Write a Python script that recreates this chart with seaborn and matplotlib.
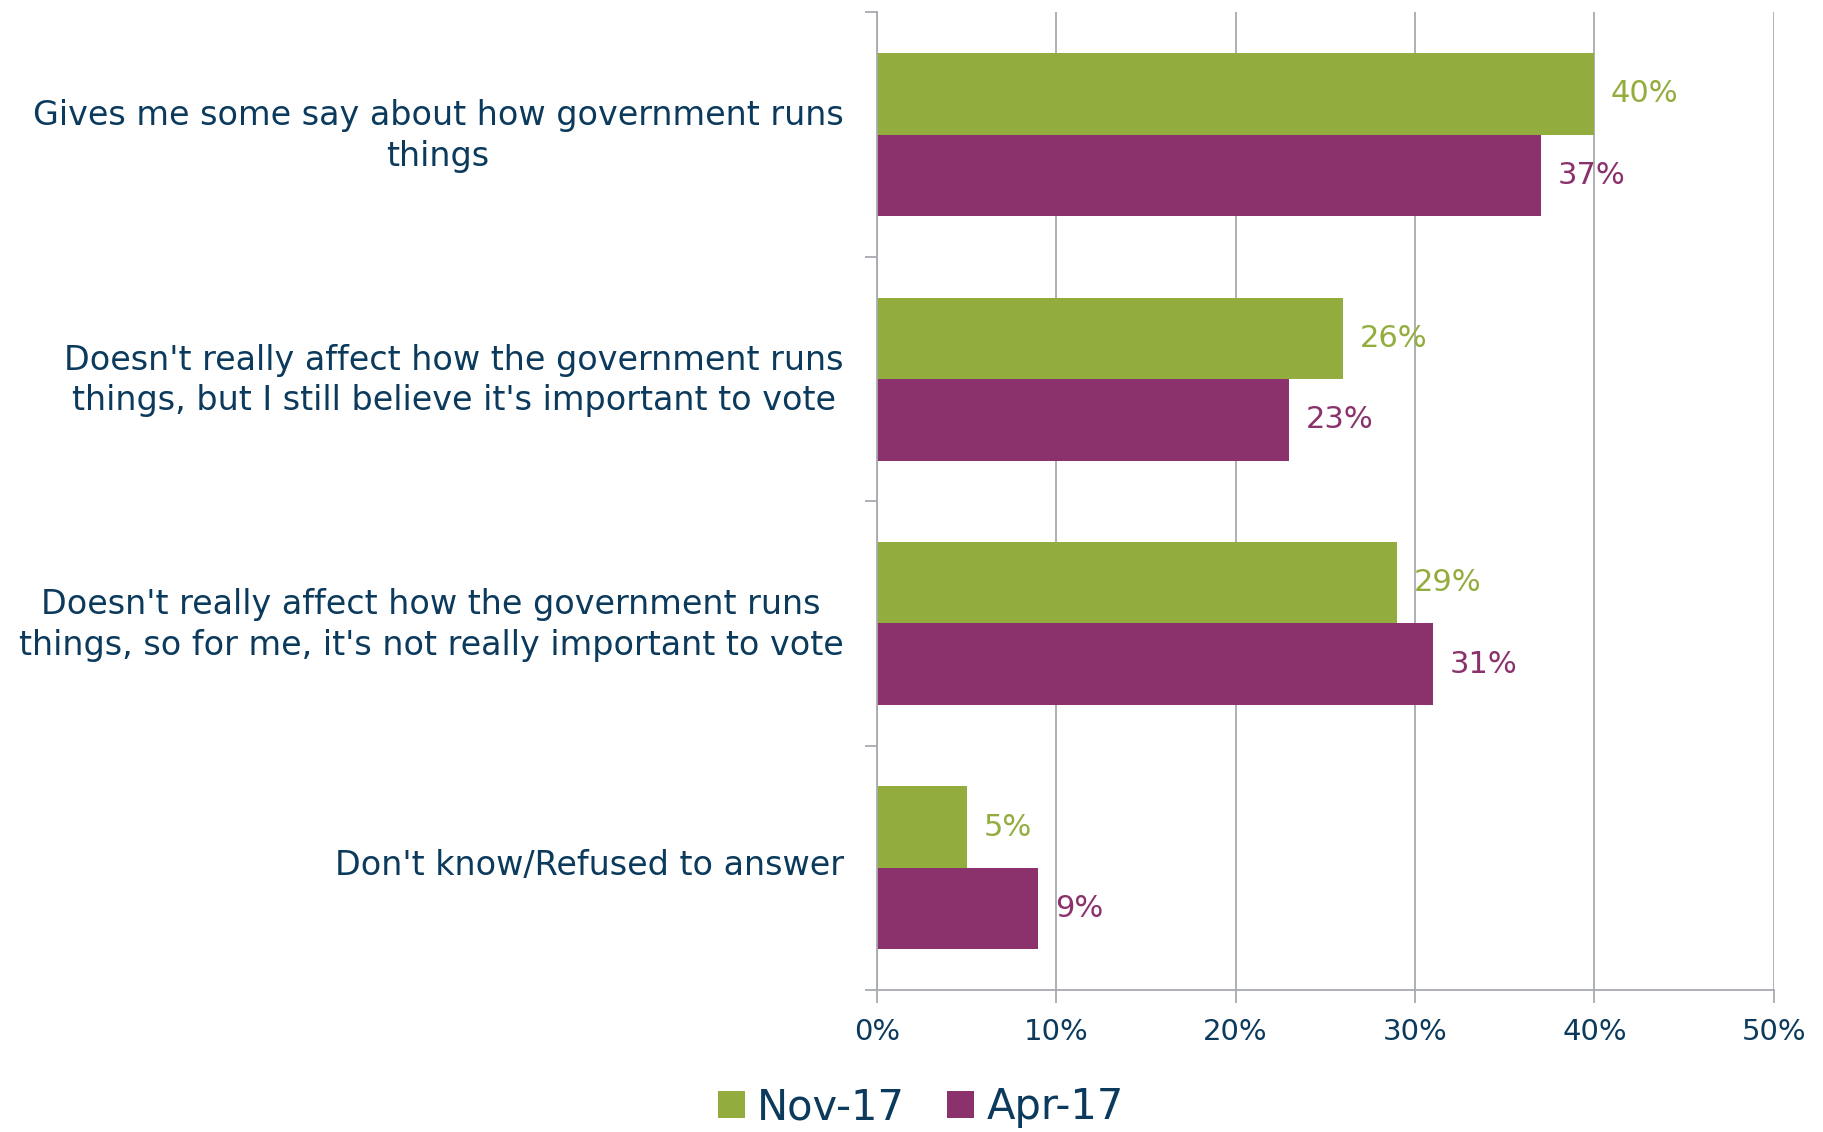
import matplotlib
matplotlib.use("Agg")
import matplotlib.pyplot as plt
import matplotlib.transforms as mtransforms
import seaborn as sns
import pandas as pd
import numpy as np
from matplotlib.patches import Patch
from matplotlib.ticker import FixedLocator, PercentFormatter

categories = [
    "Gives me some say about how government runs\nthings",
    "Doesn't really affect how the government runs\nthings, but I still believe it's important to vote",
    "Doesn't really affect how the government runs\nthings, so for me, it's not really important to vote",
    "Don't know/Refused to answer",
]
series_names = ["Nov-17", "Apr-17"]
nov17 = [40, 26, 29, 5]
apr17 = [37, 23, 31, 9]
x_ticks = [0, 10, 20, 30, 40, 50]

colors = ["#92AD3E", "#8B316B"]
text_color = "#0B3A5C"
grid_color = "#A7ABB1"

df = pd.DataFrame({
    "category": categories * 2,
    "series": [series_names[0]] * 4 + [series_names[1]] * 4,
    "value": nov17 + apr17,
})

sns.set_style("white")
plt.rcParams['font.family'] = ['DejaVu Sans']

fig = plt.figure(figsize=(18.23, 11.32), dpi=100)
ax = fig.add_axes([0.481, 0.1254, 0.492, 0.8636])

sns.barplot(data=df, y="category", x="value", hue="series", order=categories,
            hue_order=series_names, palette=colors, orient="h", width=2/3,
            gap=0, dodge=True, saturation=1, ax=ax, legend=False, linewidth=0)

ax.set_xlim(0, 50)
ax.set_ylim(3.5, -0.5)
ax.xaxis.set_major_locator(FixedLocator(x_ticks))
ax.xaxis.set_major_formatter(PercentFormatter(decimals=0))
ax.grid(axis="x", color=grid_color, linewidth=1.3)
ax.set_axisbelow(True)
ax.set_xlabel("")
ax.set_ylabel("")

for s in ["top", "right"]:
    ax.spines[s].set_visible(False)
for s in ["left", "bottom"]:
    ax.spines[s].set_color(grid_color)
    ax.spines[s].set_linewidth(1.3)

ax.tick_params(axis="x", which="major", bottom=True, direction="out", length=9,
               width=1.3, color=grid_color, labelsize=21,
               labelcolor=text_color, pad=11)
ax.tick_params(axis="y", which="major", left=True, length=0, labelsize=24,
               labelcolor=text_color, pad=24)
ax.yaxis.set_minor_locator(FixedLocator([-0.5, 0.5, 1.5, 2.5, 3.5]))
ax.tick_params(axis="y", which="minor", left=True, direction="out", length=9,
               width=1.3, color=grid_color)
shift = mtransforms.ScaledTranslation(0, 6 / 100, fig.dpi_scale_trans)
for lab in ax.get_yticklabels():
    lab.set_multialignment("center")
    lab.set_linespacing(1.3)
    lab.set_transform(lab.get_transform() + shift)

# value labels
for cont, col in zip(ax.containers, colors):
    ax.bar_label(cont, labels=[f"{v:.0f}%" for v in cont.datavalues],
                 padding=12, color=col, fontsize=22)

handles = [Patch(facecolor=c, edgecolor="none") for c in colors]
fig.legend(handles, series_names, loc="center", bbox_to_anchor=(0.505, 0.022),
           ncol=2, frameon=False, fontsize=30, labelcolor=text_color,
           handlelength=0.65, handleheight=0.65, handletextpad=0.3, columnspacing=1.0)

fig.savefig("out.png", dpi=100)
